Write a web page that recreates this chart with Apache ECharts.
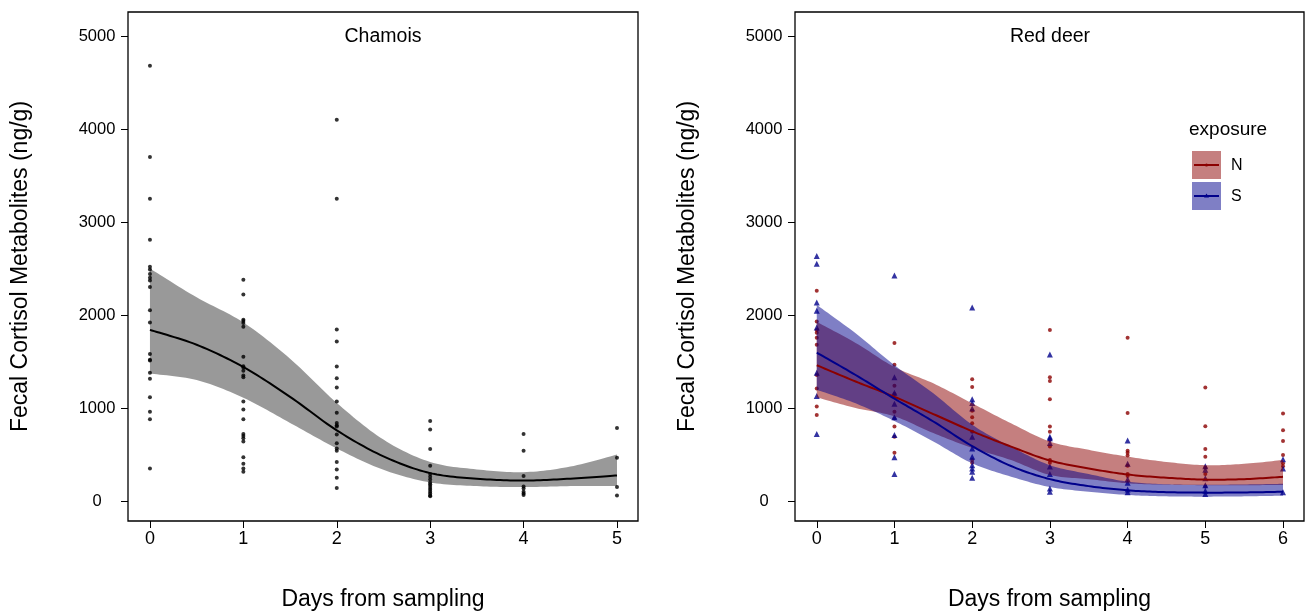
<!DOCTYPE html>
<html>
<head>
<meta charset="utf-8">
<script src="https://cdn.jsdelivr.net/npm/echarts@6/dist/echarts.min.js"></script>
<style>
html,body{margin:0;padding:0;background:#fff;}
#chart{width:1310px;height:612px;}
</style>
</head>
<body>
<div id="chart"></div>
<script>
// ---------- data ----------
const dayTicksChamois = [0, 1, 2, 3, 4, 5];
const dayTicksDeer = [0, 1, 2, 3, 4, 5, 6];
const yTicks = [0, 1000, 2000, 3000, 4000, 5000];

// Chamois observations per day
const chamoisDay0 = [4680, 3700, 3250, 2810, 2520, 2490, 2440, 2400, 2370, 2300, 2050, 1920, 1580, 1520, 1510, 1380, 1315, 1115, 960, 880, 350];
const chamoisDay1 = [2380, 2220, 1950, 1935, 1915, 1875, 1550, 1450, 1435, 1400, 1350, 1330, 1070, 985, 880, 720, 700, 675, 640, 470, 400, 350, 315];
const chamoisDay2 = [4100, 3250, 1845, 1715, 1445, 1320, 1220, 1070, 950, 840, 815, 800, 715, 620, 565, 540, 420, 340, 250, 140];
const chamoisDay3 = [860, 770, 560, 380, 290, 260, 230, 200, 180, 160, 140, 120, 100, 80, 60, 50];
const chamoisDay4 = [720, 540, 270, 155, 135, 100, 80, 65];
const chamoisDay5 = [785, 465, 150, 60];

// Chamois fitted curve and confidence band
const chamoisCurveDays = [0, 0.5, 1, 1.5, 2, 2.5, 3, 3.5, 4, 4.5, 5];
const chamoisFit = [1840, 1680, 1440, 1120, 760, 480, 300, 240, 220, 240, 275];
const chamoisLo  = [1370, 1300, 1110, 840, 565, 335, 200, 160, 150, 160, 160];
const chamoisHi  = [2500, 2190, 1920, 1530, 1055, 660, 420, 340, 310, 370, 500];

// Red deer observations, exposure N
const deerN0 = [2260, 1930, 1840, 1810, 1755, 1680, 1355, 1210, 1015, 925];
const deerN1 = [1700, 1465, 1240, 1150, 960, 890, 800, 690, 520];
const deerN2 = [1310, 1225, 970, 900, 835, 745, 440, 410];
const deerN3 = [1840, 1330, 1290, 1095, 800, 745, 655, 585, 440, 410];
const deerN4 = [1755, 945, 540, 520, 490, 380, 290, 270];
const deerN5 = [1220, 805, 560, 475, 360, 290, 155];
const deerN6 = [940, 760, 645, 495, 405, 375];
// Red deer observations, exposure S
const deerS0 = [2635, 2550, 2135, 2045, 1865, 1380, 1130, 720];
const deerS1 = [2425, 1330, 1165, 1045, 900, 710, 470, 290];
const deerS2 = [2080, 1095, 1055, 995, 690, 565, 475, 385, 350, 315, 250];
const deerS3 = [1575, 690, 675, 625, 370, 290, 135, 100];
const deerS4 = [650, 400, 235, 195, 125, 95];
const deerS5 = [375, 335, 245, 170, 110, 75];
const deerS6 = [450, 350, 95];

// Red deer fitted curves and bands
const deerCurveDays = [0, 0.5, 1, 1.5, 2, 2.5, 3, 3.5, 4, 4.5, 5, 5.5, 6];
const nFit = [1460, 1285, 1120, 935, 750, 585, 435, 350, 285, 250, 230, 235, 260];
const nLo  = [1115, 1000, 910, 730, 570, 440, 280, 235, 190, 175, 170, 170, 172];
const nHi  = [1925, 1700, 1440, 1265, 1050, 835, 640, 550, 477, 420, 385, 400, 441];
const sFit = [1595, 1355, 1100, 855, 590, 376, 235, 160, 115, 95, 90, 92, 100];
const sLo  = [1195, 1050, 860, 640, 405, 262, 150, 100, 65, 50, 47, 50, 57];
const sHi  = [2108, 1803, 1460, 1158, 820, 584, 385, 290, 208, 180, 175, 178, 185];

// ---------- build ----------
const FONT = '"Liberation Sans", Arial, Helvetica, sans-serif';
function pts(groups) {
  const out = [];
  groups.forEach((vals, d) => vals.forEach(v => out.push([d, v])));
  return out;
}
// Catmull-Rom smoothing of pixel points (rendering only)
function spline(p) {
  const out = [], N = 14;
  for (let i = 0; i < p.length - 1; i++) {
    const p0 = p[Math.max(i - 1, 0)], p1 = p[i], p2 = p[i + 1], p3 = p[Math.min(i + 2, p.length - 1)];
    for (let k = 0; k < N; k++) {
      const s = k / N, s2 = s * s, s3 = s2 * s;
      const f = j => 0.5 * (2 * p1[j] + (-p0[j] + p2[j]) * s + (2 * p0[j] - 5 * p1[j] + 4 * p2[j] - p3[j]) * s2 + (-p0[j] + 3 * p1[j] - 3 * p2[j] + p3[j]) * s3);
      out.push([f(0), f(1)]);
    }
  }
  out.push(p[p.length - 1]);
  return out;
}

const chamoisPts = pts([chamoisDay0, chamoisDay1, chamoisDay2, chamoisDay3, chamoisDay4, chamoisDay5]);
const nPts = pts([deerN0, deerN1, deerN2, deerN3, deerN4, deerN5, deerN6]);
const sPts = pts([deerS0, deerS1, deerS2, deerS3, deerS4, deerS5, deerS6]);

const RED = '#8B0000', BLUE = '#00008B';
const RED_FILL = 'rgba(139,0,0,0.5)', BLUE_FILL = 'rgba(0,0,139,0.5)';
const XTICK_FS = 18, YTICK_FS = 16.5, TITLE_FS = 23;

function xAxisDef(gi, min, max, ticks) {
  return {
    type: 'value', gridIndex: gi, min: min, max: max,
    axisLine: {show: false, onZero: false}, splitLine: {show: false},
    axisTick: {show: true, customValues: ticks, length: 7, lineStyle: {color: '#000', width: 1}},
    axisLabel: {show: true, customValues: ticks, color: '#000', fontSize: XTICK_FS, fontFamily: FONT, margin: 9},
    name: 'Days from sampling', nameLocation: 'middle', nameGap: 67,
    nameTextStyle: {color: '#000', fontSize: TITLE_FS, fontFamily: FONT}
  };
}
function yAxisDef(gi) {
  return {
    type: 'value', gridIndex: gi, min: -215, max: 5258,
    axisLine: {show: false, onZero: false}, splitLine: {show: false},
    axisTick: {show: true, customValues: yTicks, length: 7, lineStyle: {color: '#000', width: 1}},
    axisLabel: {show: true, customValues: yTicks, color: '#000', fontSize: YTICK_FS, fontFamily: FONT, margin: 31,
                align: 'center', formatter: v => String(v)},
    name: 'Fecal Cortisol Metabolites (ng/g)', nameLocation: 'middle', nameGap: 96,
    nameTextStyle: {color: '#000', fontSize: TITLE_FS, fontFamily: FONT}
  };
}
function bandSeries(xi, xs, lo, hi, fill) {
  const rows = xs.map((x, i) => [x, lo[i], hi[i]]);
  return {
    type: 'custom', xAxisIndex: xi, yAxisIndex: xi, data: rows, silent: true, z: 3,
    encode: {x: 0, y: [1, 2]},
    renderItem: function (params, api) {
      if (params.dataIndex !== 0) return null;
      const top = rows.map(r => api.coord([r[0], r[2]]));
      const bot = rows.map(r => api.coord([r[0], r[1]]));
      const poly = spline(top).concat(spline(bot).reverse());
      return {type: 'polygon', shape: {points: poly}, style: {fill: fill}};
    }
  };
}
function fitSeries(xi, xs, ys, color) {
  const rows = xs.map((x, i) => [x, ys[i]]);
  return {
    type: 'custom', xAxisIndex: xi, yAxisIndex: xi, data: rows, silent: true, z: 4,
    encode: {x: 0, y: 1},
    renderItem: function (params, api) {
      if (params.dataIndex !== 0) return null;
      const p = rows.map(r => api.coord(r));
      return {type: 'polyline', shape: {points: spline(p)}, style: {stroke: color, lineWidth: 2, fill: null}};
    }
  };
}

const series = [
  {type: 'scatter', name: 'chamois', xAxisIndex: 0, yAxisIndex: 0, data: chamoisPts,
   symbol: 'circle', symbolSize: 4, itemStyle: {color: '#000'}, z: 2},
  bandSeries(0, chamoisCurveDays, chamoisLo, chamoisHi, 'rgba(0,0,0,0.4)'),
  fitSeries(0, chamoisCurveDays, chamoisFit, '#000'),

  {type: 'scatter', name: 'N', xAxisIndex: 1, yAxisIndex: 1, data: nPts,
   symbol: 'circle', symbolSize: 4, itemStyle: {color: RED}, z: 2},
  {type: 'scatter', name: 'S', xAxisIndex: 1, yAxisIndex: 1, data: sPts,
   symbol: 'triangle', symbolSize: 6, itemStyle: {color: BLUE}, z: 2},
  bandSeries(1, deerCurveDays, nLo, nHi, RED_FILL),
  bandSeries(1, deerCurveDays, sLo, sHi, BLUE_FILL),
  fitSeries(1, deerCurveDays, nFit, RED),
  fitSeries(1, deerCurveDays, sFit, BLUE)
];

const option = {
  animation: false,
  backgroundColor: '#fff',
  grid: [
    {left: 128, top: 12, width: 510, height: 509, show: true, borderColor: '#000', borderWidth: 1.3,
     backgroundColor: 'transparent', z: 10, containLabel: false, outerBoundsMode: 'none'},
    {left: 795, top: 12, width: 509, height: 509, show: true, borderColor: '#000', borderWidth: 1.3,
     backgroundColor: 'transparent', z: 10, containLabel: false, outerBoundsMode: 'none'}
  ],
  xAxis: [xAxisDef(0, -0.235, 5.225, dayTicksChamois), xAxisDef(1, -0.28, 6.27, dayTicksDeer)],
  yAxis: [yAxisDef(0), yAxisDef(1)],
  series: series,
  graphic: [
    {type: 'text', x: 383, y: 37, style: {text: 'Chamois', fontSize: 19.5, fontFamily: FONT, fill: '#000', textAlign: 'center', textVerticalAlign: 'middle'}},
    {type: 'text', x: 1050, y: 37, style: {text: 'Red deer', fontSize: 19.5, fontFamily: FONT, fill: '#000', textAlign: 'center', textVerticalAlign: 'middle'}},
    {type: 'text', x: 1189, y: 130, style: {text: 'exposure', fontSize: 19, fontFamily: FONT, fill: '#000', textAlign: 'left', textVerticalAlign: 'middle'}},
    {type: 'rect', shape: {x: 1192, y: 151, width: 29, height: 28}, style: {fill: RED_FILL}},
    {type: 'line', shape: {x1: 1194, y1: 165, x2: 1219, y2: 165}, style: {stroke: RED, lineWidth: 2}},
    {type: 'circle', shape: {cx: 1206.5, cy: 165, r: 1.6}, style: {fill: RED}},
    {type: 'text', x: 1231, y: 166, style: {text: 'N', fontSize: 16, fontFamily: FONT, fill: '#000', textAlign: 'left', textVerticalAlign: 'middle'}},
    {type: 'rect', shape: {x: 1192, y: 182, width: 29, height: 28}, style: {fill: BLUE_FILL}},
    {type: 'line', shape: {x1: 1194, y1: 196, x2: 1219, y2: 196}, style: {stroke: BLUE, lineWidth: 2}},
    {type: 'polygon', shape: {points: [[1206.5, 193.5], [1209, 197.5], [1204, 197.5]]}, style: {fill: BLUE}},
    {type: 'text', x: 1231, y: 197, style: {text: 'S', fontSize: 16, fontFamily: FONT, fill: '#000', textAlign: 'left', textVerticalAlign: 'middle'}}
  ]
};

const chart = echarts.init(document.getElementById('chart'), null, {renderer: 'canvas'});
chart.setOption(option);
</script>
</body>
</html>
